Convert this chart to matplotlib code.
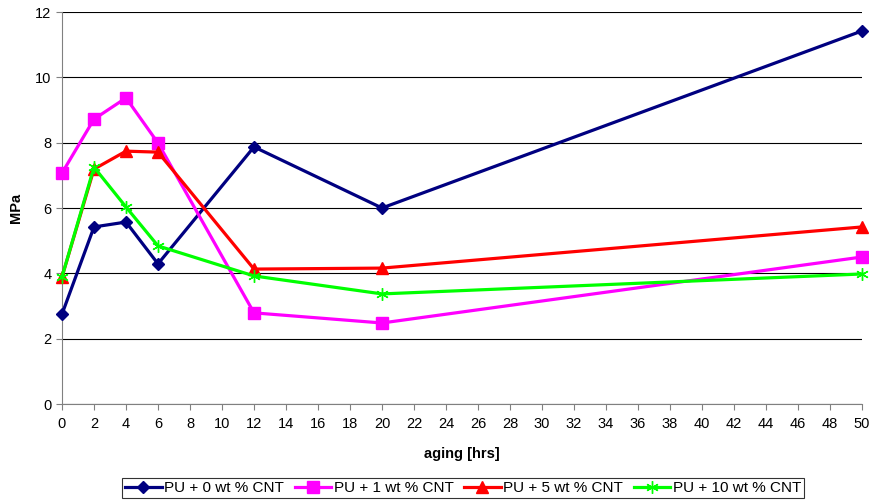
import matplotlib
matplotlib.use("Agg")
import matplotlib.pyplot as plt

plt.rcParams['font.family'] = ['Liberation Sans', 'DejaVu Sans']

aging_hrs = [0, 2, 4, 6, 12, 20, 50]
pu_0 = [2.75, 5.42, 5.57, 4.29, 7.87, 6.00, 11.42]
pu_1 = [7.07, 8.72, 9.37, 7.99, 2.79, 2.48, 4.50]
pu_5 = [3.89, 7.19, 7.74, 7.71, 4.13, 4.16, 5.42]
pu_10 = [3.89, 7.25, 6.03, 4.84, 3.92, 3.37, 3.98]

labels = ["PU + 0 wt % CNT", "PU + 1 wt % CNT", "PU + 5 wt % CNT", "PU + 10 wt % CNT"]
x_ticks = list(range(0, 51, 2))
y_ticks = [0, 2, 4, 6, 8, 10, 12]

fs = 10.5

fig = plt.figure(figsize=(8.7, 5.01), dpi=100)
ax = fig.add_axes([62 / 870, 1 - 404 / 501, 800 / 870, 392 / 501])

common = dict(lw=2.3, zorder=3, clip_on=False)
ax.plot(aging_hrs, pu_0, color="#000080", marker="D", ms=6.5, label=labels[0], **common)
ax.plot(aging_hrs, pu_1, color="#FF00FF", marker="s", ms=8, label=labels[1], **common)
ax.plot(aging_hrs, pu_5, color="#FF0000", marker="^", ms=8, label=labels[2], **common)
ax.plot(aging_hrs, pu_10, color="#00FF00", marker=(6, 2, 0), ms=9, mew=1.0,
        label=labels[3], **common)

ax.set_xlim(0, 50)
ax.set_ylim(0, 12)
ax.set_xticks(x_ticks)
ax.set_yticks(y_ticks)
ax.tick_params(axis="both", labelsize=fs, direction="out", length=4, width=0.8, color="#808080")
ax.tick_params(axis="x", pad=5)
ax.yaxis.grid(True, color="#000000", lw=0.8)
ax.set_axisbelow(True)
for side in ("top", "right"):
    ax.spines[side].set_visible(False)
ax.spines["left"].set_color("#808080")
ax.spines["bottom"].set_color("#808080")

ax.set_xlabel("aging [hrs]", fontsize=fs, fontweight="bold", labelpad=12)
ax.set_ylabel("MPa", fontsize=fs, fontweight="bold", labelpad=9)

leg = fig.legend(loc="center", bbox_to_anchor=(463 / 870, 1 - 488 / 501), ncol=4,
                 fontsize=11, frameon=True, fancybox=False, edgecolor="black",
                 numpoints=1, handlelength=2.4, handletextpad=0.15, columnspacing=0.7,
                 borderpad=0.2, borderaxespad=0)
leg.get_frame().set_linewidth(0.8)

fig.savefig("out.png", dpi=100)
